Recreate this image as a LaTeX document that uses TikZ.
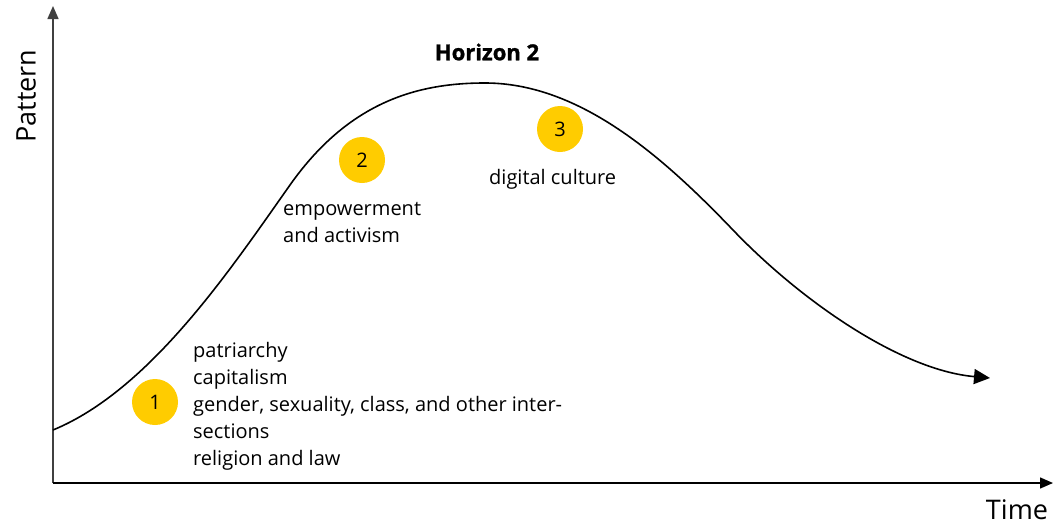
\documentclass[tikz,border=0pt]{standalone}
\usepackage{fontspec}
\setmainfont{Open Sans}
\newfontfamily\titlefont{Open Sans}[FakeBold=1.2]
\usetikzlibrary{arrows.meta}
\definecolor{marker}{HTML}{FFCC00}
\tikzset{
  axis/.style={line width=1.4pt, -{Triangle[length=13pt,width=11pt]}},
  trend/.style={line width=1.6pt, -{Triangle[length=16pt,width=15pt]}},
  badge/.style={circle, fill=marker, minimum size=46pt, inner sep=0pt, font=\fontsize{20}{20}\selectfont},
  label/.style={align=left, anchor=north west, inner sep=0pt, font=\fontsize{20}{27}\selectfont},
  axislabel/.style={inner sep=0pt, font=\fontsize{27}{27}\selectfont}
}
\begin{document}
\begin{tikzpicture}[x=1pt, y=-1pt]
  \useasboundingbox (0,0) rectangle (1060,525);
  % axes
  \coordinate (O) at (53,483);
  \coordinate (ytop) at (53,6);
  \coordinate (xend) at (1053,483);
  \draw[axis, draw=black!75, fill=black] (O) -- (ytop);
  \draw[axis] (O) -- (xend);
  \node[axislabel, rotate=90] (ylab) at (26,96) {Pattern};
  \node[axislabel] (xlab) at (1017,510) {Time};
  % trend curve
  \coordinate (c0) at (53,430);
  \coordinate (c1) at (290,185);
  \coordinate (c2) at (485,83);
  \coordinate (c3) at (733,230);
  \coordinate (c4) at (990,378);
  \draw[trend] (c0) .. controls (150,390) and (230,270) .. (c1)
    .. controls (350,100) and (420,83) .. (c2)
    .. controls (580,83) and (663,157) .. (c3)
    .. controls (800,300) and (900,370) .. (c4);
  % title
  \node[font=\fontsize{22}{22}\selectfont\titlefont\bfseries] (title) at (487,52) {Horizon 2};
  % markers
  \node[badge] (m1) at (155,402) {1};
  \node[badge] (m2) at (362,160) {2};
  \node[badge] (m3) at (560,129) {3};
  % descriptions
  \node[label] (t1) at (193,342) {patriarchy\\capitalism\\gender, sexuality, class, and other inter-\\sections\\religion and law};
  \node[label] (t2) at (283,202) {empowerment\\and activism};
  \node[label] (t3) at (489,169) {digital culture};
\end{tikzpicture}
\end{document}
